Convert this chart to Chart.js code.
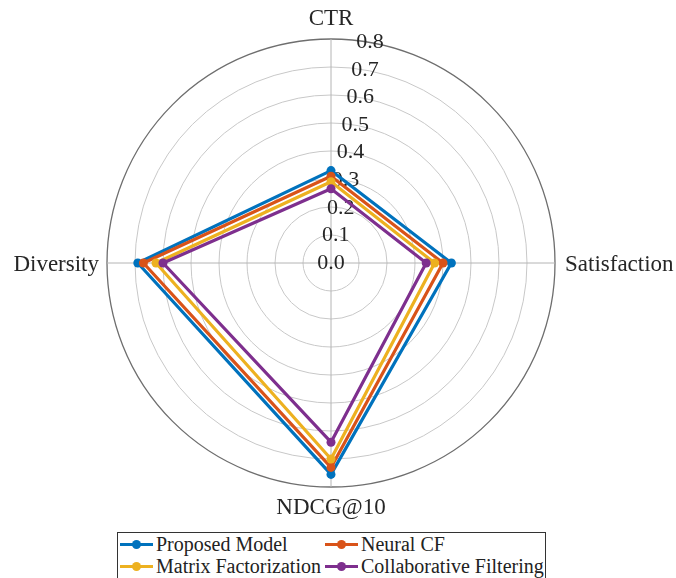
<!DOCTYPE html>
<html>
<head>
<meta charset="utf-8">
<script src="https://cdn.jsdelivr.net/npm/chart.js@4/dist/chart.umd.min.js"></script>
<style>
  html, body { margin: 0; padding: 0; background: #fff; }
  #wrap { position: relative; width: 676px; height: 578px; overflow: hidden; }
  #c { position: absolute; left: 0; top: 0; }
  #legend { position: absolute; left: 117px; top: 532px; width: 429px; height: 48px;
            border: 1px solid #333; background: #fff; box-sizing: border-box;
            font-family: "Liberation Serif", "Times New Roman", serif; font-size: 20px; color: #222; }
  .item { position: absolute; height: 22px; line-height: 22px; white-space: nowrap; }
  .sym { position: absolute; top: 0; width: 33px; height: 22px; }
  .sym .ln { position: absolute; left: 0; right: 0; top: 10px; height: 3px; }
  .sym .dot { position: absolute; left: 12px; top: 7px; width: 9px; height: 9px; border-radius: 50%; }
  .txt { position: absolute; top: 0; }
</style>
</head>
<body>
<div id="wrap">
  <canvas id="c" width="676" height="578"></canvas>
  <div id="legend"></div>
</div>
<script>
// ---- data ----
const categories = ['CTR', 'Satisfaction', 'NDCG@10', 'Diversity'];
const seriesNames = ['Proposed Model', 'Neural CF', 'Matrix Factorization', 'Collaborative Filtering'];
const proposedModel = [0.33, 0.43, 0.755, 0.69];
const neuralCF = [0.31, 0.40, 0.73, 0.67];
const matrixFactorization = [0.29, 0.37, 0.70, 0.625];
const collaborativeFiltering = [0.265, 0.34, 0.64, 0.60];
const tickValues = [0, 0.1, 0.2, 0.3, 0.4, 0.5, 0.6, 0.7, 0.8];
const tickLabels = ['0.0', '0.1', '0.2', '0.3', '0.4', '0.5', '0.6', '0.7', '0.8'];

const seriesValues = [proposedModel, neuralCF, matrixFactorization, collaborativeFiltering];
const colors = ['#0072BD', '#D95319', '#EDB120', '#7E2F8E'];

const datasets = seriesNames.map((name, i) => ({
  label: name,
  data: seriesValues[i],
  borderColor: colors[i],
  backgroundColor: colors[i],
  pointBackgroundColor: colors[i],
  pointBorderColor: colors[i],
  pointRadius: 4.5,
  pointBorderWidth: 0,
  borderWidth: 3.2,
  fill: false,
  order: seriesNames.length - i
}));

const FONT = '"Liberation Serif", "Times New Roman", serif';
const tickAngle = 10 * Math.PI / 180;

const labelPlugin = {
  id: 'customLabels',
  beforeDatasetsDraw(chart) {
    const s = chart.scales.r;
    const ctx = chart.ctx;
    ctx.save();
    ctx.fillStyle = '#262626';
    ctx.font = '22px ' + FONT;
    ctx.textAlign = 'center';
    ctx.textBaseline = 'middle';
    tickValues.forEach((v, i) => {
      const p = s.getPointPosition(0, s.getDistanceFromCenterForValue(v), tickAngle);
      ctx.fillText(tickLabels[i], p.x, p.y);
    });
    ctx.restore();
  },
  afterDraw(chart) {
    const s = chart.scales.r;
    const ctx = chart.ctx;
    const top = tickValues[tickValues.length - 1];
    ctx.save();
    ctx.fillStyle = '#262626';
    ctx.font = '23px ' + FONT;
    ctx.textBaseline = 'alphabetic';
    categories.forEach((lab, i) => {
      const p = s.getPointPositionForValue(i, top);
      const a = s.getIndexAngle(i);
      const sx = Math.sin(a), cy = -Math.cos(a);
      let x = p.x, y = p.y;
      if (Math.abs(sx) < 0.5) {
        ctx.textAlign = 'center';
        y = cy < 0 ? p.y - 14 : p.y + 27;
      } else {
        ctx.textAlign = sx > 0 ? 'left' : 'right';
        x = sx > 0 ? p.x + 10 : p.x - 8;
        y = p.y + 8;
      }
      ctx.fillText(lab, x, y);
    });
    ctx.restore();
  }
};

new Chart(document.getElementById('c'), {
  type: 'radar',
  data: { labels: categories, datasets: datasets },
  options: {
    responsive: false,
    animation: false,
    events: [],
    layout: { padding: { left: 107, right: 121, top: 39, bottom: 91 } },
    plugins: { legend: { display: false }, tooltip: { enabled: false } },
    elements: { line: { tension: 0, borderJoinStyle: 'round' } },
    scales: {
      r: {
        min: 0,
        max: 0.8,
        ticks: { display: false, stepSize: 0.1 },
        pointLabels: { display: false },
        angleLines: { display: true, color: '#b4b4b4', lineWidth: 1 },
        grid: {
          circular: true,
          color: (c) => (c.index === tickValues.length - 1 ? '#6e6e6e' : '#c8c8c8'),
          lineWidth: (c) => (c.index === tickValues.length - 1 ? 1.3 : 1)
        }
      }
    }
  },
  plugins: [labelPlugin]
});

// HTML legend (2 columns x 2 rows)
const legend = document.getElementById('legend');
const colX = [2, 207];
seriesNames.forEach((name, i) => {
  const item = document.createElement('div');
  item.className = 'item';
  item.style.left = colX[i % 2] + 'px';
  item.style.top = (Math.floor(i / 2) * 22) + 'px';
  item.innerHTML = '<span class="sym"><span class="ln" style="background:' + colors[i] +
    '"></span><span class="dot" style="background:' + colors[i] + '"></span></span>' +
    '<span class="txt" style="left:36px">' + name + '</span>';
  legend.appendChild(item);
});
</script>
</body>
</html>
